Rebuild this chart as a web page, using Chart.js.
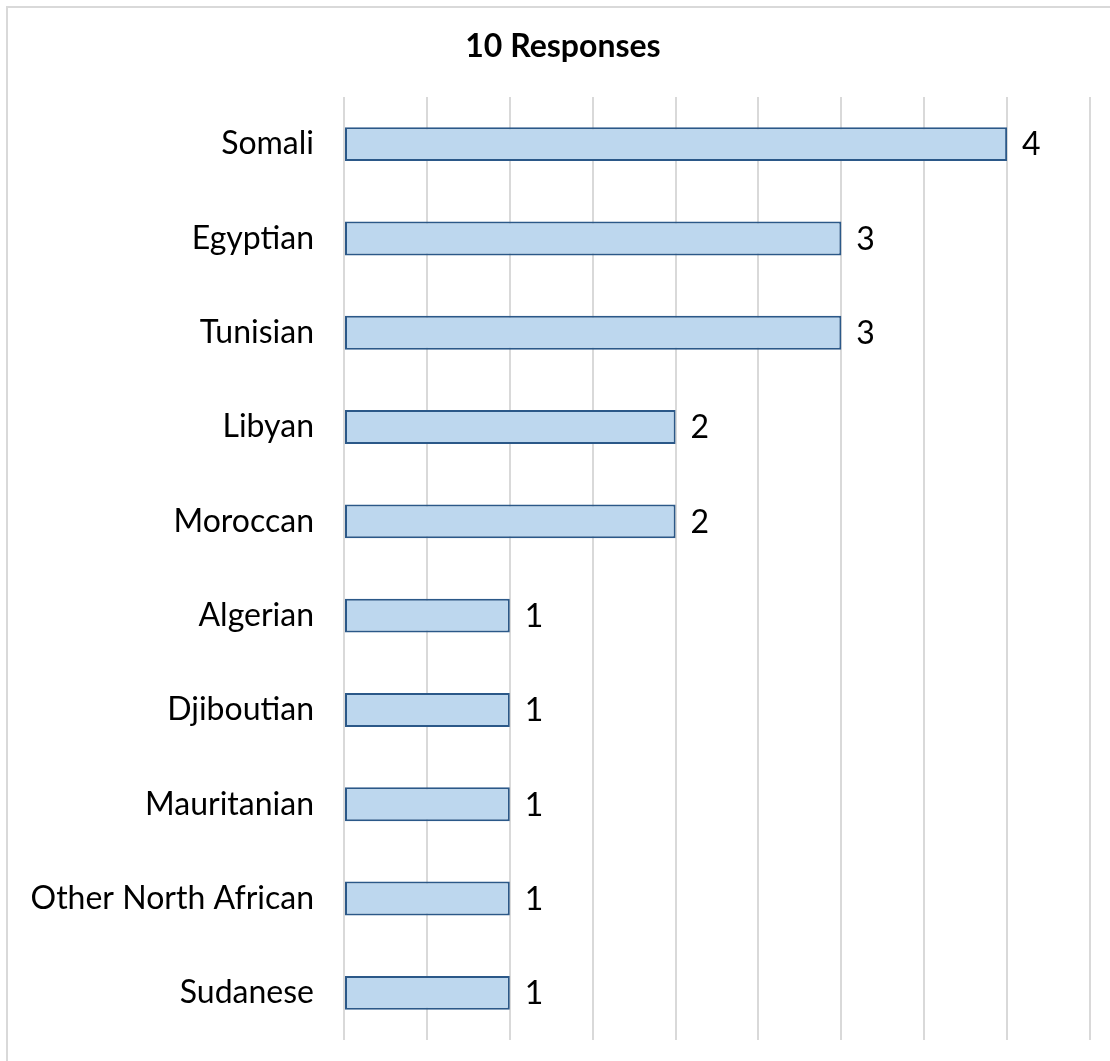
<!DOCTYPE html>
<html>
<head>
<meta charset="utf-8">
<title>10 Responses</title>
<script src="https://cdn.jsdelivr.net/npm/chart.js@4"></script>
<style>
  html, body { margin: 0; padding: 0; background: #fff; overflow: hidden; }
  #wrap { position: relative; width: 1110px; height: 1061px; }
  #frame {
    position: absolute; left: 6px; top: 6px; width: 1200px; height: 1200px;
    border-top: 2px solid #d9d9d9; border-left: 2px solid #d9d9d9;
    box-sizing: border-box; pointer-events: none;
  }
  canvas { position: absolute; left: 0; top: 0; }
</style>
</head>
<body>
<div id="wrap">
  <canvas id="myChart" width="1110" height="1061"></canvas>
  <div id="frame"></div>
</div>
<script>
const groups = ['Somali', 'Egyptian', 'Tunisian', 'Libyan', 'Moroccan',
                'Algerian', 'Djiboutian', 'Mauritanian', 'Other North African', 'Sudanese'];
const counts = [4, 3, 3, 2, 2, 1, 1, 1, 1, 1];
const titleText = '10 Responses';

const fontFamily = "Lato, 'Open Sans', sans-serif";

// write the count just past the end of each bar
const barValues = {
    id: 'barValues',
    afterDatasetsDraw(chart) {
        const ctx = chart.ctx;
        const meta = chart.getDatasetMeta(0);
        ctx.save();
        ctx.font = '32px ' + fontFamily;
        ctx.fillStyle = '#000';
        ctx.textAlign = 'left';
        ctx.textBaseline = 'middle';
        meta.data.forEach(function(bar, i) {
            ctx.fillText(String(counts[i]), bar.x + 15, bar.y + 1);
        });
        ctx.restore();
    }
};

// heading sits centred over the whole frame, not just the canvas
const heading = {
    id: 'heading',
    afterDraw(chart) {
        const ctx = chart.ctx;
        ctx.save();
        ctx.font = 'bold 32px ' + fontFamily;
        ctx.fillStyle = '#000';
        ctx.textAlign = 'center';
        ctx.textBaseline = 'middle';
        ctx.fillText(titleText, 563, 47);
        ctx.restore();
    }
};

const myChart = new Chart('myChart', {
    type: 'bar',
    data: {
        labels: groups,
        datasets: [{
            data: counts,
            backgroundColor: '#bdd7ee',
            borderColor: '#2b5888',
            borderWidth: 2,
            borderSkipped: false,
            barPercentage: 0.36,
            categoryPercentage: 1
        }]
    },
    options: {
        indexAxis: 'y',
        responsive: false,
        animation: false,
        layout: { padding: { left: 0, right: 20, top: 97, bottom: 21 } },
        plugins: {
            legend: { display: false },
            tooltip: { enabled: false },
            title: { display: false }
        },
        scales: {
            x: {
                min: 0,
                max: 4.5,
                ticks: { display: false, stepSize: 0.5 },
                grid: { color: '#d9d9d9', lineWidth: 2, drawTicks: false },
                border: { display: false },
                afterFit(scale) { scale.height = 0; }
            },
            y: {
                grid: { display: false, drawTicks: false },
                border: { display: false },
                ticks: {
                    color: '#000',
                    padding: 30,
                    font: { family: fontFamily, size: 32 }
                },
                afterFit(scale) {
                    scale.width = 344;
                    scale.paddingTop = 0;
                    scale.paddingBottom = 0;
                }
            }
        }
    },
    plugins: [barValues, heading]
});
</script>
</body>
</html>
